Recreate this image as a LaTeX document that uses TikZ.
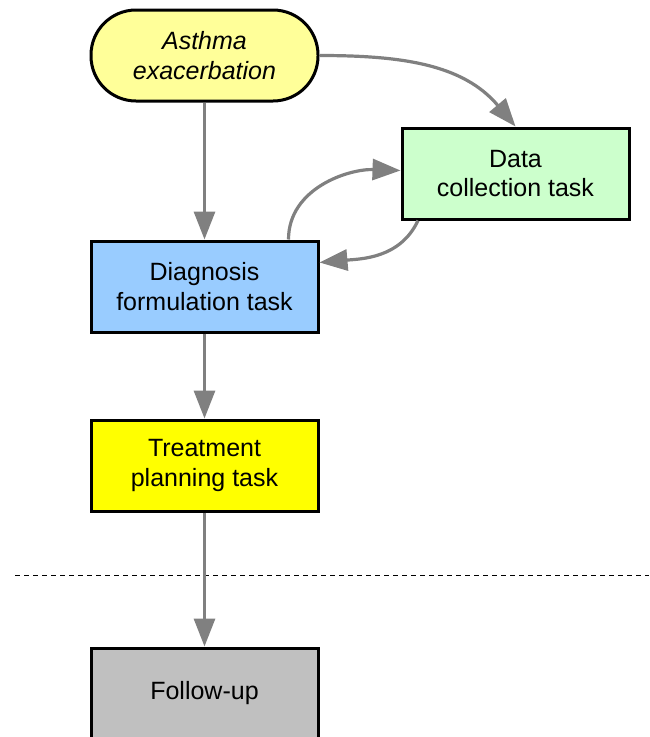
\documentclass[tikz,border=0pt]{standalone}
\usepackage{fontspec}
\setmainfont{Liberation Sans}
\usetikzlibrary{positioning}
\usetikzlibrary{arrows.meta}
\definecolor{eventColor}{HTML}{FFFF99}
\definecolor{dataColor}{HTML}{CCFFCC}
\definecolor{diagColor}{HTML}{99CCFF}
\definecolor{treatColor}{HTML}{FFFF00}
\definecolor{followColor}{HTML}{C0C0C0}
\definecolor{edgeColor}{HTML}{808080}

\begin{document}
\begin{tikzpicture}[x=1pt,y=-1pt]

          \tikzstyle{taskNode} = [draw=black, line width=3pt, minimum width=227pt, minimum height=91pt,
                                  inner sep=0pt, align=center, font=\fontsize{25}{29.5}\selectfont];
          \tikzstyle{eventNode} = [taskNode, rounded corners=45pt, fill=eventColor];
          \tikzstyle{normalEdge} = [line width=3.2pt, edgeColor, -{Triangle[length=28pt,width=21pt]}];

          \useasboundingbox (0,0) rectangle (649,737);

          \node[eventNode] (asthma) at (204.5,55.5) {\itshape Asthma\\\itshape exacerbation};
          \node[taskNode, fill=dataColor] (data) at (515.5,173.5) {Data\\collection task};
          \node[taskNode, fill=diagColor] (diag) at (204.5,286.5) {Diagnosis\\formulation task};
          \node[taskNode, fill=treatColor] (treat) at (204.5,465.5) {Treatment\\planning task};
          \node[taskNode, fill=followColor] (follow) at (204.5,693.5) {Follow-up};

          \coordinate (lineL) at (15,575);
          \coordinate (lineR) at (649,575);
          \draw[dashed, line width=0.8pt, dash pattern=on 5pt off 4pt] (lineL) -- (lineR);

          \draw[normalEdge] (asthma) -- (diag);
          \draw[normalEdge] (asthma.east) to[out=0, in=130] (data.north);
          \draw[normalEdge] ([xshift=84pt]diag.north) to[out=90, in=178] ([yshift=3pt]data.west);
          \draw[normalEdge] ([xshift=-97.5pt]data.south) to[out=-115, in=5] ([yshift=24pt]diag.east);
          \draw[normalEdge] (diag) -- (treat);
          \draw[normalEdge] (treat) -- (follow);
        \end{tikzpicture}
\end{document}
